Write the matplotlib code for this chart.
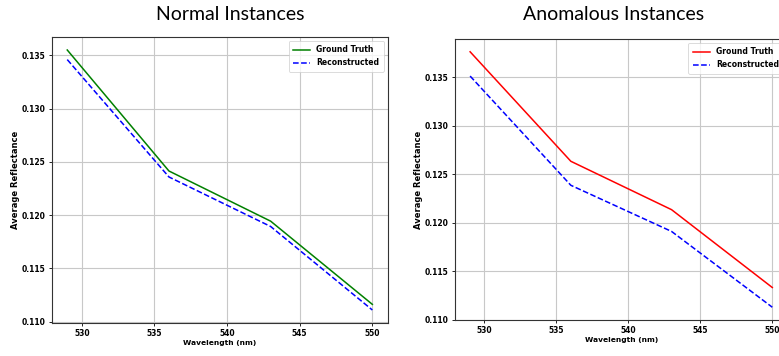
import matplotlib.pyplot as plt

wavelength = [529, 536, 543, 550]

normal_truth = [0.1355, 0.12414, 0.11943, 0.11162]
normal_recon = [0.1346, 0.12358, 0.11893, 0.11109]

anomal_truth = [0.1376, 0.12633, 0.12135, 0.11334]
anomal_recon = [0.1351, 0.12386, 0.11911, 0.11131]

W, H = 779, 356
fig = plt.figure(figsize=(W / 100, H / 100), dpi=100)
FS = 5.5


def panel(rect, truth, recon, color):
    ax = fig.add_axes(rect)
    ax.plot(wavelength, truth, color=color, lw=1.1, label="Ground Truth")
    ax.plot(wavelength, recon, color="blue", lw=1.1, ls="--", label="Reconstructed")
    ax.grid(True, color="#c8c8c8", lw=0.8)
    ax.set_axisbelow(True)
    ax.set_xticks([530, 535, 540, 545, 550])
    ax.set_yticks([0.110, 0.115, 0.120, 0.125, 0.130, 0.135])
    ax.yaxis.set_major_formatter(plt.FormatStrFormatter("%.3f"))
    ax.tick_params(labelsize=FS, length=2.5, width=0.6, pad=2)
    for t in ax.get_xticklabels() + ax.get_yticklabels():
        t.set_fontweight("bold")
    for s in ax.spines.values():
        s.set_linewidth(0.8)
        s.set_color("#333333")
    ax.set_xlabel("Wavelength (nm)", fontsize=5.4, fontweight="bold", labelpad=1.5)
    ax.set_ylabel("Average Reflectance", fontsize=6.0, fontweight="bold", labelpad=1.5)
    leg = ax.legend(loc="upper right", prop={"size": FS, "weight": "bold"},
                    handlelength=2.2, borderpad=0.6, labelspacing=0.5)
    leg.get_frame().set_linewidth(0.6)
    return ax


panel([52 / W, 33 / H, 335.6 / W, 286 / H], normal_truth, normal_recon, "green")
panel([455 / W, 36 / H, 332.4 / W, 281 / H], anomal_truth, anomal_recon, "red")

fig.text(230 / W, 1 - 15 / H, "Normal Instances", ha="center", va="center",
         fontsize=14, family="Lato")
fig.text(614 / W, 1 - 15 / H, "Anomalous Instances", ha="center", va="center",
         fontsize=14, family="Lato")

fig.savefig("out.png", dpi=100)
